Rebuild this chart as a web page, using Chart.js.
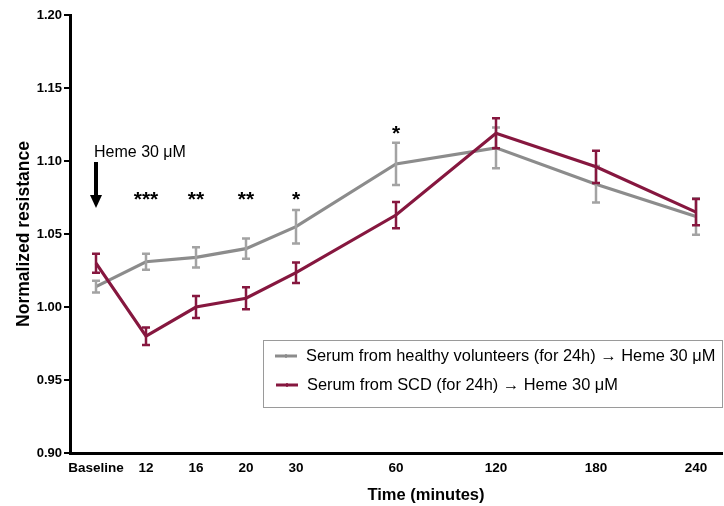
<!DOCTYPE html>
<html>
<head>
<meta charset="utf-8">
<script src="https://cdn.jsdelivr.net/npm/chart.js@4"></script>
<style>
  html, body { margin: 0; padding: 0; background: #fff; }
  #wrap { width: 724px; height: 506px; }
</style>
</head>
<body>
<div id="wrap"><canvas id="chart"></canvas></div>
<script>
// positions on the x axis and their labels
const timePositions = [0, 1, 2, 3, 4, 6, 8, 10, 12];
const timeLabels = ['Baseline', '12', '16', '20', '30', '60', '120', '180', '240'];

const healthyMean = [1.014, 1.031, 1.034, 1.040, 1.055, 1.098, 1.109, 1.084, 1.062];
const healthyErr = [0.004, 0.0055, 0.007, 0.007, 0.0115, 0.0145, 0.014, 0.0125, 0.0125];

const scdMean = [1.030, 0.980, 1.000, 1.006, 1.0235, 1.063, 1.119, 1.096, 1.065];
const scdErr = [0.0065, 0.006, 0.0075, 0.0075, 0.007, 0.009, 0.0103, 0.011, 0.009];

const sigMarks = [
    { x: 1, y: 1.0765, text: '***' },
    { x: 2, y: 1.0765, text: '**' },
    { x: 3, y: 1.0765, text: '**' },
    { x: 4, y: 1.0765, text: '*' },
    { x: 6, y: 1.122, text: '*' }
];

const healthyLabel = 'Serum from healthy volunteers (for 24h) \u2192 Heme 30 \u03BCM';
const scdLabel = 'Serum from SCD (for 24h) \u2192 Heme 30 \u03BCM';

const GRAY = '#8c8c8c';
const GRAY_ERR = '#a3a3a3';
const RED = '#86173f';
const FONT = '"Liberation Sans", Arial, Helvetica, sans-serif';

const toPoints = (vals) => vals.map((v, i) => ({ x: timePositions[i], y: v }));

const errorBars = {
    id: 'errorBars',
    afterDatasetDraw(chart, args) {
        const ds = chart.data.datasets[args.index];
        const xs = chart.scales.x, ys = chart.scales.y;
        const ctx = chart.ctx;
        ctx.save();
        ctx.strokeStyle = ds.errColor;
        ctx.lineWidth = 2.5;
        ds.data.forEach((p, i) => {
            const px = xs.getPixelForValue(p.x);
            const top = ys.getPixelForValue(p.y + ds.err[i]);
            const bot = ys.getPixelForValue(p.y - ds.err[i]);
            ctx.beginPath();
            ctx.moveTo(px, top); ctx.lineTo(px, bot);
            ctx.moveTo(px - 4, top); ctx.lineTo(px + 4, top);
            ctx.moveTo(px - 4, bot); ctx.lineTo(px + 4, bot);
            ctx.stroke();
        });
        ctx.restore();
    }
};

const decorations = {
    id: 'decorations',
    afterDraw(chart) {
        const ctx = chart.ctx;
        const xs = chart.scales.x, ys = chart.scales.y;
        ctx.save();

        // asterisks
        ctx.fillStyle = '#000';
        ctx.font = 'bold 21px ' + FONT;
        ctx.textAlign = 'center';
        ctx.textBaseline = 'middle';
        sigMarks.forEach(m => {
            ctx.fillText(m.text, xs.getPixelForValue(m.x), ys.getPixelForValue(m.y) + 5);
        });

        // heme arrow
        const ax = xs.getPixelForValue(0);
        const aTop = ys.getPixelForValue(1.0993);
        const aTip = ys.getPixelForValue(1.0678);
        ctx.lineWidth = 4;
        ctx.beginPath();
        ctx.moveTo(ax, aTop);
        ctx.lineTo(ax, aTip - 10);
        ctx.stroke();
        ctx.beginPath();
        ctx.moveTo(ax - 6, aTip - 13);
        ctx.lineTo(ax + 6, aTip - 13);
        ctx.lineTo(ax, aTip);
        ctx.closePath();
        ctx.fill();

        ctx.font = '16px ' + FONT;
        ctx.textAlign = 'left';
        ctx.textBaseline = 'alphabetic';
        ctx.fillText('Heme 30 \u03BCM', ax - 2, ys.getPixelForValue(1.1025));

        // axis titles
        ctx.font = 'bold 16.5px ' + FONT;
        ctx.textAlign = 'center';
        ctx.textBaseline = 'middle';
        ctx.fillText('Time (minutes)', 426, 495);
        ctx.save();
        ctx.font = 'bold 17.5px ' + FONT;
        ctx.translate(24, (chart.chartArea.top + chart.chartArea.bottom) / 2);
        ctx.rotate(-Math.PI / 2);
        ctx.fillText('Normalized resistance', 0, 0);
        ctx.restore();

        // legend box
        ctx.strokeStyle = '#9a9a9a';
        ctx.lineWidth = 1;
        ctx.strokeRect(263.5, 340.5, 459, 67);
        const rows = [
            { label: healthyLabel, color: GRAY, y: 356, x0: 275 },
            { label: scdLabel, color: RED, y: 385, x0: 276 }
        ];
        ctx.font = '16.4px ' + FONT;
        ctx.textAlign = 'left';
        rows.forEach(r => {
            ctx.strokeStyle = r.color;
            ctx.lineWidth = 3;
            ctx.beginPath();
            ctx.moveTo(r.x0, r.y); ctx.lineTo(r.x0 + 22, r.y);
            ctx.stroke();
            ctx.lineWidth = 1.5;
            ctx.beginPath();
            ctx.moveTo(r.x0 + 11, r.y - 2); ctx.lineTo(r.x0 + 11, r.y + 2);
            ctx.stroke();
            ctx.fillStyle = '#000';
            ctx.fillText(r.label, r.x0 + 31, r.y);
        });
        ctx.restore();
    }
};

new Chart(document.getElementById('chart'), {
    type: 'line',
    data: {
        datasets: [
            {
                label: healthyLabel,
                data: toPoints(healthyMean),
                err: healthyErr,
                errColor: GRAY_ERR,
                borderColor: GRAY,
                borderWidth: 3.2,
                pointRadius: 0,
                tension: 0,
                order: 1
            },
            {
                label: scdLabel,
                data: toPoints(scdMean),
                err: scdErr,
                errColor: RED,
                borderColor: RED,
                borderWidth: 3.2,
                pointRadius: 0,
                tension: 0,
                order: 0
            }
        ]
    },
    plugins: [errorBars, decorations],
    options: {
        responsive: true,
        maintainAspectRatio: false,
        animation: false,
        layout: { padding: { top: 15, right: 2, left: 0, bottom: 0 } },
        plugins: {
            legend: { display: false },
            tooltip: { enabled: false }
        },
        scales: {
            x: {
                type: 'linear',
                min: -0.52,
                max: 12.52,
                afterBuildTicks: (scale) => {
                    scale.ticks = timePositions.map(v => ({ value: v }));
                },
                afterFit: (scale) => { scale.height = 53; },
                grid: { display: false, drawTicks: false, tickLength: 0 },
                border: { color: '#000', width: 3 },
                ticks: {
                    color: '#000',
                    padding: 7,
                    maxRotation: 0,
                    autoSkip: false,
                    font: { family: FONT, size: 13.5, weight: 'bold' },
                    callback: (v) => timeLabels[timePositions.indexOf(v)]
                }
            },
            y: {
                min: 0.90,
                max: 1.20,
                afterFit: (scale) => { scale.width = 70; },
                grid: {
                    drawOnChartArea: false,
                    drawTicks: true,
                    tickLength: 6,
                    color: '#000',
                    lineWidth: 2
                },
                border: { color: '#000', width: 3 },
                ticks: {
                    stepSize: 0.05,
                    color: '#000',
                    padding: 2,
                    font: { family: FONT, size: 13, weight: 'bold' },
                    callback: (v) => v.toFixed(2)
                }
            }
        }
    }
});
</script>
</body>
</html>
